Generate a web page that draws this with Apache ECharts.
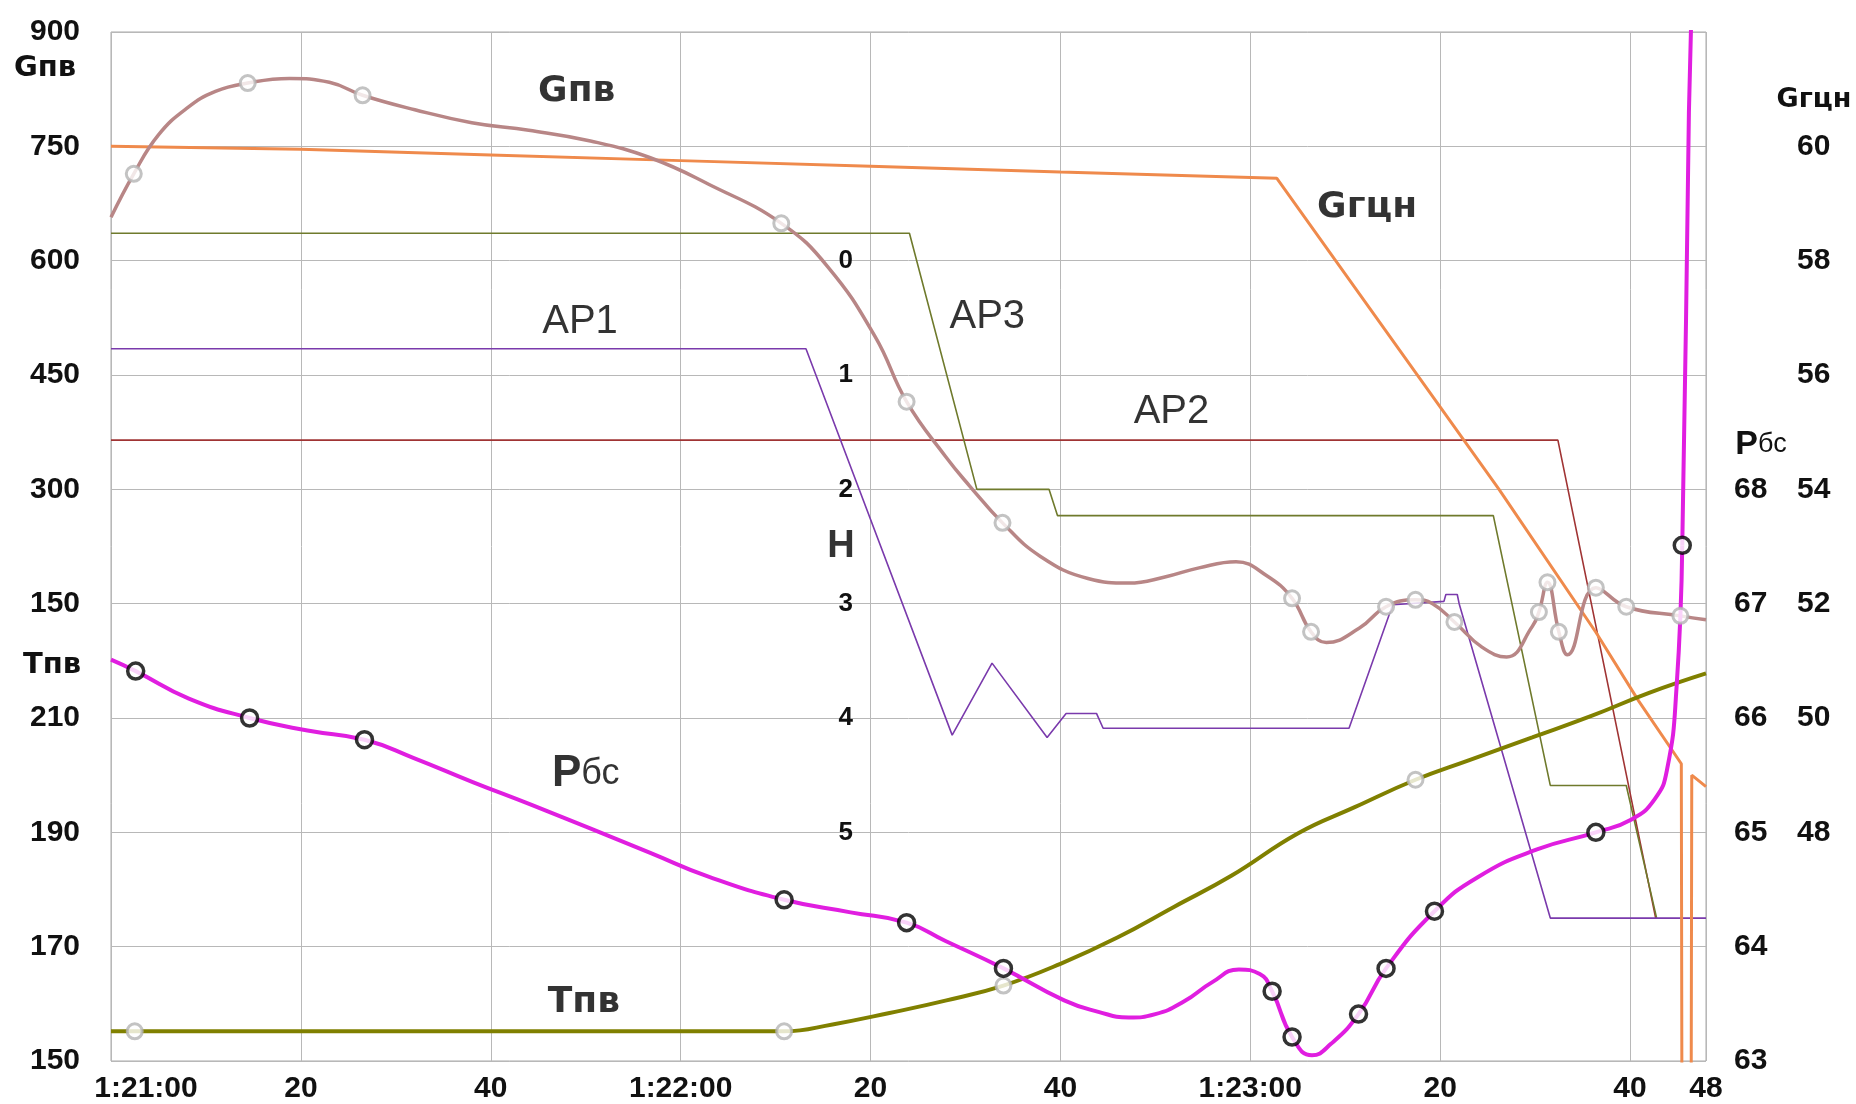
<!DOCTYPE html>
<html><head><meta charset="utf-8">
<script src="https://cdn.jsdelivr.net/npm/echarts@6/dist/echarts.min.js"></script>
<style>html,body{margin:0;padding:0;background:#fff}#c{width:1856px;height:1104px}</style>
</head><body><div id="c"></div>
<script>
// ---- DATA (x = seconds after 1:21:00) ----
const xTickLabels = {0:'1:21:00',20:'20',40:'40',60:'1:22:00',80:'20',100:'40',120:'1:23:00',140:'20',160:'40',168:'48'};
const leftTickLabels = ['150','170','190','210','150','300','450','600','750','900']; // bottom -> top
const hTickLabels = ['','','0','1','2','3','4','5','',''];            // H = -2 .. 7
const gcnTickLabels = ['','','48','50','52','54','56','58','60',''];   // 44 .. 62
const pbsTickLabels = ['63','64','65','66','67','68','','','',''];     // 63 .. 72

// Gпв (feed-water flow)
const gpvTime  = [0,2.4,5,8,11,14.4,18.8,23,26.5,32,38,44,50.5,56.8,63,70.6,75.5,80.5,83.8,87.9,90.4,93.9,97.9,102.9,107.2,111,114.6,118.5,121.7,124.4,126.4,128,131.5,134.3,137.4,139.2,141.5,144.4,147,149.7,150.4,151.3,152.5,153.4,156.4,159.6,165.3,168];
const gpvValue = [657,714,765,800,822,833,839,834,817,798,781,771,757,735,700,649,592,500,415,343,305,256,212,183,177,185,197,205,187,157,113,99,118,146,155,150,126,93,80,120,139,178,113,83,171,146,134,129];
const gpvMarkTime  = [2.4,14.4,26.5,70.6,83.8,93.9,124.4,126.4,134.3,137.4,141.5,150.4,151.3,152.5,156.4,159.6,165.3];
const gpvMarkValue = [714,833,817,649,415,256,157,113,146,155,126,139,178,113,171,146,134];

// Gгцн (circulation pump flow)
const gcnTime  = [0,20,40,60,80,100,122.8,146.2,156.4,160.9,165.4,165.5,166.4,166.5,168];
const gcnValue = [60.0,59.95,59.85,59.75,59.65,59.55,59.44,54.0,51.5,50.3,49.2,40,40,49.0,48.8];

// Тпв (feed-water temperature)
const tpvTime  = [0,60,70.9,76,82,88,94,100,106,112,118,125,131,137.4,143,149.7,156,162,168];
const tpvValue = [155.2,155.2,155.2,156.4,158.4,160.6,163.2,167,171.6,177,182.4,189.8,194.4,199.2,202.6,206.6,210.4,214.4,217.8];
const tpvMarkTime  = [2.5,70.9,94,137.4];
const tpvMarkValue = [155.2,155.2,163.2,199.2];

// Рбс (drum pressure)
const pbsTime  = [0,2.6,8.2,14.6,20.7,26.7,31.9,38.1,44.3,50.6,56.8,63,70.9,77.9,83.8,87.9,94,100.4,104,107.2,110,113,116,118.8,121,122.3,124.4,126.5,128.5,131.4,134.3,139.4,144,150.2,156.4,160.1,162.6,163.9,164.9,165.5,165.9,166.2,166.5];
const pbsValue = [66.51,66.41,66.17,66.00,65.89,65.81,65.65,65.44,65.24,65.03,64.82,64.61,64.41,64.30,64.21,64.05,63.81,63.53,63.43,63.38,63.41,63.52,63.69,63.80,63.76,63.61,63.21,63.05,63.15,63.41,63.81,64.31,64.61,64.85,65.00,65.11,65.29,65.55,66.27,67.51,69.5,71.3,72.3];
const pbsMarkTime  = [2.6,14.6,26.7,70.9,83.8,94,122.3,124.4,131.4,134.3,139.4,156.4,165.5];
const pbsMarkValue = [66.41,66.00,65.81,64.41,64.21,63.81,63.61,63.21,63.41,63.81,64.31,65.00,67.51];

// AP1, AP2, AP3 regulator positions (chart grid units 0..9)
const ap1Time  = [0,73.2,88.6,92.8,98.6,100.6,103.8,104.5,130.4,135,140.4,140.6,141.8,142,151.6,168];
const ap1Value = [6.23,6.23,2.85,3.48,2.83,3.04,3.04,2.91,2.91,3.99,4.02,4.08,4.08,4.0,1.25,1.25];
const ap2Time  = [0,152.4,162.7];
const ap2Value = [5.43,5.43,1.25];
const ap3Time  = [0,84.1,91.2,98.8,99.7,145.6,151.6,159.6,162.8];
const ap3Value = [7.24,7.24,5.0,5.0,4.77,4.77,2.41,2.41,1.25];

// In-plot labels
const plotLabelTexts = ['{gb|Gпв}','{gb|Gгцн}','{ap|AP1}','{ap|AP2}','{ap|AP3}','{hb|H}','{pb|Р}{pr|бс}','{gb|Тпв}'];
const plotLabelPos = [[49.05,8.475],[132.3,7.46],[49.4,6.46],[111.7,5.68],[92.3,6.51],[76.9,4.50],[50,2.51],[49.8,0.51]];

// ---- CHART ----
const zip = (t, v) => t.map((x, i) => [x, v[i]]);
const FONT = '"Liberation Sans", Arial, sans-serif';
const DJ = '"DejaVu Sans", sans-serif';
const lab = {fontFamily: FONT, fontWeight: 'bold', fontSize: 30, color: '#111'};
const noLine = {axisLine: {show: false}, axisTick: {show: false}};
const pbsSplit = 39; // index where the near-vertical final rise starts

const chart = echarts.init(document.getElementById('c'));
chart.setOption({
  animation: false,
  backgroundColor: '#fff',
  grid: {left: 111, right: 150, top: 32, bottom: 43, show: true, borderColor: '#a8a8a8', borderWidth: 1, outerBoundsMode: 'none', containLabel: false},
  xAxis: {
    type: 'value', min: 0, max: 168, interval: 20, ...noLine,
    splitLine: {show: true, lineStyle: {color: '#b8b8b8', width: 1}},
    axisLabel: {...lab, margin: 13, showMaxLabel: true, showMinLabel: true,
      formatter: v => { const t = xTickLabels[Math.round(v)] || ''; return v === 0 ? '{first|' + t + '}' : t; },
      rich: {first: {...lab, padding: [0, 0, 0, 70]}}}
  },
  yAxis: [
    {type: 'value', position: 'left', min: -450, max: 900, interval: 150, ...noLine,
      splitLine: {show: true, lineStyle: {color: '#b8b8b8', width: 1}},
      axisLabel: {...lab, margin: 31, padding: [0, 0, 10, 0], formatter: v => leftTickLabels[Math.round((v + 450) / 150)] || ''}},
    {type: 'value', min: 150, max: 330, show: false},
    {type: 'value', position: 'left', offset: -750, inverse: true, min: -2, max: 7, interval: 1, ...noLine,
      splitLine: {show: false},
      axisLabel: {...lab, fontSize: 26, margin: 8, formatter: v => hTickLabels[Math.round(v + 2)] || ''}},
    {type: 'value', position: 'right', min: 44, max: 62, interval: 2, ...noLine,
      splitLine: {show: false},
      axisLabel: {...lab, margin: 91, padding: [0, 0, 10, 0], formatter: v => gcnTickLabels[Math.round((v - 44) / 2)] || ''}},
    {type: 'value', position: 'right', min: 63, max: 72, interval: 1, ...noLine,
      splitLine: {show: false},
      axisLabel: {...lab, margin: 28, padding: [0, 0, 10, 0], formatter: v => pbsTickLabels[Math.round(v - 63)] || ''}},
    {type: 'value', min: 0, max: 9, show: false}
  ],
  graphic: [
    {type: 'text', z: 50, style: {x: 45, y: 68, text: 'Gпв', font: 'bold 29px "DejaVu Sans"', fill: '#111', align: 'center', verticalAlign: 'middle'}},
    {type: 'text', z: 50, style: {x: 52, y: 665, text: 'Тпв', font: 'bold 29px "DejaVu Sans"', fill: '#111', align: 'center', verticalAlign: 'middle'}},
    {type: 'text', z: 50, style: {x: 1814, y: 100, text: 'Gгцн', font: 'bold 27px "DejaVu Sans"', fill: '#111', align: 'center', verticalAlign: 'middle'}},
    {type: 'text', z: 50, style: {x: 1761, y: 445, text: '{a|Р}{b|бс}', fill: '#111', align: 'center', verticalAlign: 'middle',
      rich: {a: {fontFamily: FONT, fontWeight: 'bold', fontSize: 34, fill: '#111'}, b: {fontFamily: FONT, fontSize: 27, fill: '#111'}}}}
  ],
  series: [
    {name: 'AP2', type: 'line', yAxisIndex: 5, data: zip(ap2Time, ap2Value), symbol: 'none', lineStyle: {color: '#a03434', width: 1.6}, z: 2},
    {name: 'AP3', type: 'line', yAxisIndex: 5, data: zip(ap3Time, ap3Value), symbol: 'none', lineStyle: {color: '#6f7a2c', width: 1.6}, z: 2},
    {name: 'AP1', type: 'line', yAxisIndex: 5, data: zip(ap1Time, ap1Value), symbol: 'none', lineStyle: {color: '#7a3aac', width: 1.6}, z: 2},
    {name: 'Gгцн', type: 'line', yAxisIndex: 3, data: zip(gcnTime, gcnValue), symbol: 'none', lineStyle: {color: '#ef8a4c', width: 3}, z: 3},
    {name: 'Gпв', type: 'line', yAxisIndex: 0, data: zip(gpvTime, gpvValue), symbol: 'none', smooth: 0.45, lineStyle: {color: '#b88686', width: 3.5}, z: 4},
    {name: 'Тпв', type: 'line', yAxisIndex: 1, data: zip(tpvTime, tpvValue), symbol: 'none', smooth: 0.45, lineStyle: {color: '#808000', width: 4}, z: 5},
    {name: 'Рбс', type: 'line', yAxisIndex: 4, data: zip(pbsTime, pbsValue).slice(0, pbsSplit + 1), symbol: 'none', smooth: 0.5, lineStyle: {color: '#e01ee0', width: 4}, z: 6},
    {name: 'Рбс rise', type: 'line', yAxisIndex: 4, data: zip(pbsTime, pbsValue).slice(pbsSplit), symbol: 'none', lineStyle: {color: '#e01ee0', width: 4}, z: 6},
    {name: 'Gпв markers', type: 'scatter', yAxisIndex: 0, data: zip(gpvMarkTime, gpvMarkValue), symbol: 'circle', symbolSize: 15, itemStyle: {color: '#fff', borderColor: '#b4b4b4', borderWidth: 3}, z: 10},
    {name: 'Тпв markers', type: 'scatter', yAxisIndex: 1, data: zip(tpvMarkTime, tpvMarkValue), symbol: 'circle', symbolSize: 15, itemStyle: {color: '#fff', borderColor: '#b4b4b4', borderWidth: 3}, z: 10},
    {name: 'Рбс markers', type: 'scatter', yAxisIndex: 4, data: zip(pbsMarkTime, pbsMarkValue), symbol: 'circle', symbolSize: 16, itemStyle: {color: '#fff', borderColor: '#000', borderWidth: 3.5}, z: 11},
    {name: 'labels', type: 'scatter', yAxisIndex: 5, symbolSize: 0, silent: true, z: 20,
      data: plotLabelTexts.map((t, i) => ({value: plotLabelPos[i], label: {formatter: t}})),
      label: {show: true, position: 'inside', align: 'center', verticalAlign: 'middle',
        rich: {
          gb: {fontFamily: DJ, fontWeight: 'bold', fontSize: 36, color: '#000'},
          ap: {fontFamily: FONT, fontSize: 40, color: '#000'},
          hb: {fontFamily: FONT, fontWeight: 'bold', fontSize: 38, color: '#000'},
          pb: {fontFamily: FONT, fontWeight: 'bold', fontSize: 44, color: '#000'},
          pr: {fontFamily: FONT, fontSize: 36, color: '#000'}
        }}}
  ]
});
</script></body></html>
